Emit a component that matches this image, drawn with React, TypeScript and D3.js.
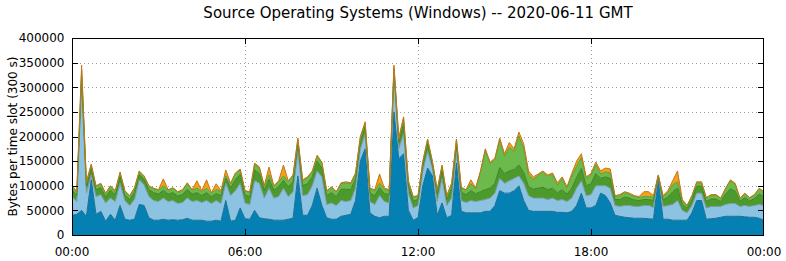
import React from 'react';
import * as d3 from 'd3';

// values in thousands of bytes per slot, one point every 10 minutes (00:00 .. 24:00)
const UNIT = 1000;
const STEP_MINUTES = 10;

const darkBlue = [
  40,42,50,38,112,42,48,28,42,30,
  60,32,30,32,62,60,35,30,30,32,
  30,31,30,31,34,30,30,30,28,28,
  30,28,70,28,30,55,33,32,50,35,
  33,32,30,30,30,32,34,120,40,40,
  60,95,60,35,32,32,38,40,42,70,
  150,175,45,38,35,38,38,250,155,165,
  50,30,35,100,136,120,40,65,35,40,
  146,48,45,45,45,45,48,48,60,90,
  85,85,90,100,70,50,48,48,48,48,
  48,46,46,45,48,60,85,55,55,60,
  85,80,65,40,38,36,35,34,34,34,
  33,32,115,32,32,30,30,30,30,45,
  70,70,32,33,34,36,38,38,38,38,
  37,36,36,34,30,
];
const lightBlue = [
  38,26,255,47,10,36,34,37,33,38,
  45,38,30,40,50,42,43,40,38,43,
  38,39,34,35,41,38,40,36,42,36,
  40,36,35,52,60,50,32,30,60,70,
  42,63,45,48,65,46,54,50,40,42,
  40,35,58,27,33,28,32,28,28,25,
  25,30,23,24,45,30,27,75,20,40,
  35,25,25,30,34,15,28,50,25,35,
  24,22,21,25,23,25,24,27,25,25,
  20,25,25,20,35,30,27,27,27,24,
  27,24,26,23,27,35,25,25,27,40,
  15,20,30,20,20,24,25,24,24,26,
  27,24,3,26,28,32,40,20,15,15,
  15,15,23,25,24,22,24,26,26,20,
  23,22,24,28,30,
];
const darkGreen = [
  14,12,18,14,13,14,14,12,16,14,
  14,12,12,15,11,11,14,16,15,16,
  15,16,15,16,18,15,16,14,16,14,
  14,16,10,16,22,18,16,16,22,20,
  16,18,16,20,16,20,21,16,20,22,
  18,20,18,18,21,18,23,25,22,19,
  15,14,17,18,16,16,17,10,13,21,
  15,14,12,12,15,8,15,16,12,19,
  15,17,16,20,16,18,20,20,20,22,
  20,20,18,22,22,18,18,20,22,20,
  20,16,20,15,20,22,25,20,22,25,
  15,18,20,12,14,17,15,13,12,12,
  12,14,2,13,17,26,25,13,9,12,
  14,14,13,15,15,10,21,30,25,10,
  16,11,14,21,18,
];
const lightGreen = [
  8,7,12,7,7,7,8,7,8,7,
  7,7,7,8,6,6,7,8,8,9,
  8,9,8,9,11,8,9,8,9,7,
  8,9,5,8,12,9,8,9,12,11,
  8,9,8,10,9,10,11,8,10,12,
  10,10,10,9,11,9,12,13,12,10,
  8,8,9,10,9,9,9,5,7,11,
  8,8,7,6,8,5,8,9,7,10,
  8,9,9,14,10,40,80,50,48,55,
  35,48,37,59,48,24,20,26,30,27,
  28,15,23,12,25,23,22,15,18,18,
  9,10,11,6,8,9,8,7,6,6,
  6,7,1,7,9,14,13,7,5,7,
  7,7,7,8,8,6,11,16,14,6,
  8,6,7,11,9,
];
const orange = [
  1,1,10,2,2,1,1,1,1,1,
  2,1,1,1,1,1,1,1,1,14,
  1,1,1,1,2,1,15,2,17,1,
  12,1,12,1,2,2,1,1,2,2,
  1,16,1,2,22,2,2,3,2,2,
  2,2,2,1,1,1,1,2,2,2,
  2,3,1,2,19,2,1,5,2,3,
  2,1,1,2,2,2,1,2,1,1,
  2,1,1,8,2,2,3,3,3,5,
  5,10,5,8,10,8,5,3,3,3,
  3,5,3,3,5,10,8,3,3,5,
  6,8,8,2,2,2,2,2,2,10,
  10,3,1,2,4,8,22,2,1,1,
  2,2,1,1,1,1,1,2,2,1,
  1,1,1,1,1,
];

const seriesKeys = ['darkBlue', 'lightBlue', 'darkGreen', 'lightGreen', 'orange'];
const seriesFill = ['#0580b3', '#8cc3e3', '#4d9a2c', '#6cba4b', '#f2a21a'];
const seriesEdge = ['#1b6e92', '#7c9aa6', '#3f8226', '#5aa13c', '#c77414'];

const yTicks = [0, 50000, 100000, 150000, 200000, 250000, 300000, 350000, 400000];
const xTickMinutes = [0, 360, 720, 1080, 1440];
const xTickLabels = ['00:00', '06:00', '12:00', '18:00', '00:00'];

const TITLE = 'Source Operating Systems (Windows) -- 2020-06-11 GMT';
const Y_LABEL = 'Bytes per time slot (300 s)';

export default function App() {
  const W = 786, H = 261;
  const L = 72, R = 764, T = 38, B = 235;
  const font = 'DejaVu Sans, Verdana, sans-serif';

  const x = d3.scaleLinear().domain([0, 1440]).range([L, R]);
  const y = d3.scaleLinear().domain([0, 400000]).range([B, T]);

  const cols: Record<string, number[]> = { darkBlue, lightBlue, darkGreen, lightGreen, orange };
  const rows = darkBlue.map((_, i) => {
    const r: any = { t: i * STEP_MINUTES };
    seriesKeys.forEach(k => { r[k] = cols[k][i] * UNIT; });
    return r;
  });
  const stacked = d3.stack<any>().keys(seriesKeys)(rows);
  const area = d3.area<any>().x(d => x(d.data.t)).y0(d => y(d[0])).y1(d => y(d[1]));
  const topLine = d3.line<any>().x(d => x(d.data.t)).y(d => y(d[1]));

  return (
    <svg width={W} height={H} style={{ position: 'absolute', left: 0, top: 0, background: '#fff' }}>
      <rect x={0} y={0} width={W} height={H} fill="#fff" />
      {/* grid */}
      <g stroke="#a0a0a0" strokeWidth={1} strokeDasharray="1,3">
        {yTicks.slice(1, -1).map(v => (
          <line key={'gy' + v} x1={L} x2={R} y1={Math.round(y(v)) + 0.5} y2={Math.round(y(v)) + 0.5} />
        ))}
        {xTickMinutes.slice(1, -1).map(v => (
          <line key={'gx' + v} x1={Math.round(x(v)) + 0.5} x2={Math.round(x(v)) + 0.5} y1={T} y2={B} />
        ))}
      </g>
      {/* areas */}
      {stacked.map((s, i) => (
        <path key={'a' + i} d={area(s) || ''} fill={seriesFill[i]} />
      ))}
      {stacked.map((s, i) => (
        <path key={'l' + i} d={topLine(s) || ''} fill="none" stroke={seriesEdge[i]} strokeWidth={1} />
      ))}
      {/* ticks */}
      <g stroke="#000" strokeWidth={1}>
        {yTicks.slice(1, -1).map(v => {
          const yy = Math.round(y(v)) + 0.5;
          return (
            <g key={'ty' + v}>
              <line x1={L} x2={L + 6} y1={yy} y2={yy} />
              <line x1={R - 6} x2={R} y1={yy} y2={yy} />
            </g>
          );
        })}
        {xTickMinutes.slice(1, -1).map(v => {
          const xx = Math.round(x(v)) + 0.5;
          return (
            <g key={'tx' + v}>
              <line x1={xx} x2={xx} y1={T} y2={T + 6} />
              <line x1={xx} x2={xx} y1={B - 6} y2={B} />
            </g>
          );
        })}
      </g>
      {/* border */}
      <rect x={L + 0.5} y={T + 0.5} width={R - L - 1} height={B - T} fill="none" stroke="#000" strokeWidth={1} />
      {/* tick labels */}
      <g fontFamily={font} fontSize={12} fill="#000">
        {yTicks.map(v => (
          <text key={'yl' + v} x={64.5} y={y(v)} dy="0.36em" textAnchor="end">{v}</text>
        ))}
        {xTickMinutes.map((v, i) => (
          <text key={'xl' + i} x={x(v)} y={256} textAnchor="middle">{xTickLabels[i]}</text>
        ))}
        <text transform={`translate(17,${(T + B) / 2}) rotate(-90)`} textAnchor="middle">{Y_LABEL}</text>
      </g>
      <text x={(L + R) / 2} y={18} textAnchor="middle" fontFamily={font} fontSize={15} fill="#000">{TITLE}</text>
    </svg>
  );
}
